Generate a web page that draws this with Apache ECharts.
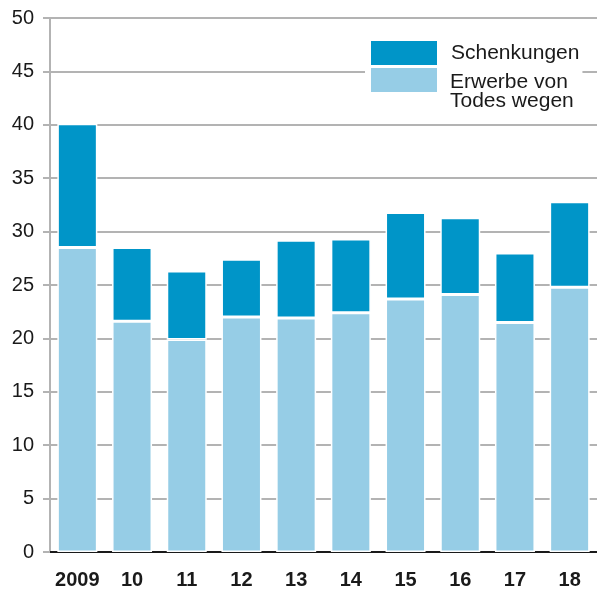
<!DOCTYPE html>
<html>
<head>
<meta charset="utf-8">
<script src="https://cdn.jsdelivr.net/npm/echarts@6/dist/echarts.min.js"></script>
<style>
  html, body { margin: 0; padding: 0; background: #fff; }
  #chart { width: 597px; height: 590px; }
</style>
</head>
<body>
<div id="chart"></div>
<script>
// Jahre (x-Achse)
var years = ['2009', '10', '11', '12', '13', '14', '15', '16', '17', '18'];
// Erwerbe von Todes wegen (unterer Teil)
var erwerbe = [28.5, 21.6, 19.9, 22.0, 21.9, 22.4, 23.7, 24.1, 21.5, 24.8];
// Schenkungen (oberer Teil)
var schenkungen = [11.6, 6.9, 6.4, 5.4, 7.3, 6.9, 8.1, 7.2, 6.5, 8.0];

var font = '"Liberation Sans", Arial, Helvetica, sans-serif';
var dark = '#0095c8';
var light = '#96cde6';
var erwerbeName = 'Erwerbe von\nTodes wegen';

var chart = echarts.init(document.getElementById('chart'));

chart.setOption({
    animation: false,
    textStyle: { fontFamily: font },
    grid: { left: 50, top: 18, width: 550, bottom: 38, containLabel: false },
    legend: {
        data: ['Schenkungen', erwerbeName],
        orient: 'vertical',
        left: 365, top: 39,
        padding: [0, 3, 0, 4],
        itemGap: -1,
        backgroundColor: '#fff',
        itemWidth: 68, itemHeight: 26,
        icon: 'rect',
        // zweizeiliger Text wird unten separat gesetzt (oben ausgerichtet wie im Original)
        formatter: function (name) { return name === erwerbeName ? '' : name; },
        textStyle: { fontFamily: font, fontSize: 21, lineHeight: 24, color: '#1a1a1a', padding: [0, 0, 0, 8] }
    },
    graphic: [{
        type: 'text',
        left: 450, top: 72,
        z: 10,
        style: {
            text: erwerbeName,
            font: '21px ' + font,
            lineHeight: 18.5,
            fill: '#1a1a1a'
        }
    }],
    xAxis: {
        type: 'category',
        data: years,
        axisLine: { lineStyle: { color: '#1a1a1a', width: 2 } },
        axisTick: { show: false },
        axisLabel: { interval: 0, fontFamily: font, fontSize: 20, fontWeight: 'bold', color: '#1a1a1a', margin: 18 }
    },
    yAxis: {
        type: 'value',
        min: 0, max: 50, interval: 5,
        axisLine: { show: true, lineStyle: { color: '#b3b3b3', width: 2 } },
        axisTick: { show: true, length: 7, lineStyle: { color: '#b3b3b3', width: 2 } },
        splitLine: { lineStyle: { color: '#b3b3b3', width: 2 } },
        axisLabel: { fontFamily: font, fontSize: 20, color: '#1a1a1a', margin: 16 }
    },
    series: [{
        name: erwerbeName,
        type: 'bar',
        stack: 'total',
        barWidth: 40,
        data: erwerbe,
        itemStyle: { color: light, borderColor: '#fff', borderWidth: 1.5 }
    }, {
        name: 'Schenkungen',
        type: 'bar',
        stack: 'total',
        barWidth: 40,
        data: schenkungen,
        itemStyle: { color: dark, borderColor: '#fff', borderWidth: 1.5 }
    }]
});
</script>
</body>
</html>
